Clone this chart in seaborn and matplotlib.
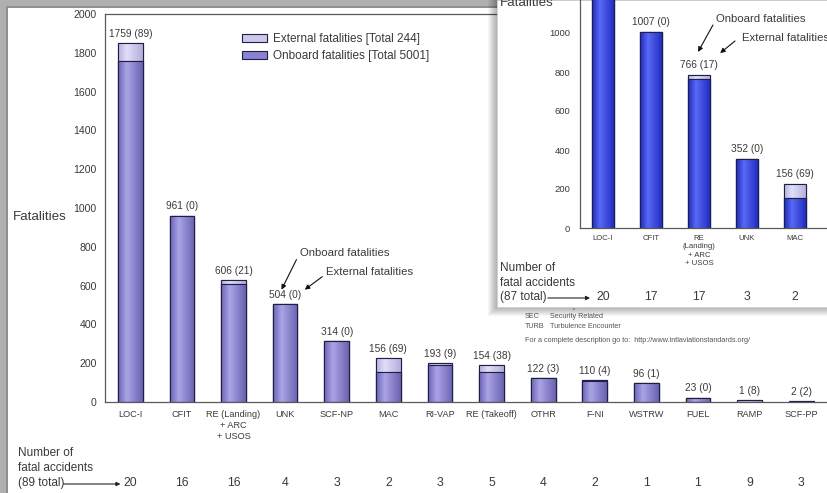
import numpy as np
import pandas as pd
import matplotlib
matplotlib.use("Agg")
import matplotlib.pyplot as plt
import seaborn as sns
from matplotlib.patches import Rectangle, Patch
from matplotlib.colors import LinearSegmentedColormap

# ---- data -------------------------------------------------------------
categories = ["LOC-I", "CFIT", "RE (Landing)\n+ ARC\n+ USOS", "UNK", "SCF-NP",
              "MAC", "RI-VAP", "RE (Takeoff)", "OTHR", "F-NI", "WSTRW",
              "FUEL", "RAMP", "SCF-PP"]
onboard = [1759, 961, 606, 504, 314, 156, 193, 154, 122, 110, 96, 23, 1, 2]
external = [89, 0, 21, 0, 0, 69, 9, 38, 3, 4, 1, 0, 8, 2]
accidents = [20, 16, 16, 4, 3, 2, 3, 5, 4, 2, 1, 1, 9, 3]

inset_categories = ["LOC-I", "CFIT", "RE\n(Landing)\n+ ARC\n+ USOS", "UNK", "MAC"]
inset_onboard = [1290, 1007, 766, 352, 156]
inset_external = [0, 0, 17, 0, 69]
inset_accidents = [20, 17, 17, 3, 2]

glossary = [("RI-A", "Runway Incursion - Animal"),
            ("SEC", "Security Related"),
            ("TURB", "Turbulence Encounter")]
source_note = "For a complete description go to:  http://www.intlaviationstandards.org/"

# ---- style ------------------------------------------------------------
sns.set_style("white")
plt.rcParams["font.family"] = ["Liberation Sans", "DejaVu Sans"]
TXT = "#3a3a3a"
EDGE = "#1e1e46"
SPINE = "#5a5a5a"

W, H = 827, 493


def fx(px):
    return px / W


def fy(py):
    return 1 - py / H


fig = plt.figure(figsize=(W / 100, H / 100), dpi=100)
fig.patch.set_facecolor("white")

grad = np.linspace(0, 1, 64).reshape(1, -1)


def cyl(name, dark, light, dark2):
    return LinearSegmentedColormap.from_list(
        name, [(0, dark), (0.35, light), (1, dark2)])


main_onb_cmap = cyl("mo", "#6c64b6", "#aaa4e6", "#6a62b0")
main_ext_cmap = cyl("me", "#b6b0de", "#e2def7", "#b3addb")
ins_onb_cmap = cyl("io", "#1d2cc4", "#5a6af3", "#1b2abd")
ins_ext_cmap = cyl("ie", "#b3b3e0", "#e0e0f7", "#b0b0dc")


def shade(ax, patches, cmap, z, lw):
    for p in patches:
        x0, y0 = p.get_x(), p.get_y()
        w, h = p.get_width(), p.get_height()
        if h <= 0:
            continue
        im = ax.imshow(grad, cmap=cmap, aspect="auto",
                       extent=(x0, x0 + w, y0, y0 + h), zorder=z,
                       interpolation="bilinear")
        im.set_clip_path(p)
        ax.add_patch(Rectangle((x0, y0), w, h, fill=False, ec=EDGE,
                               lw=lw, zorder=z + 0.1))


def stacked(ax, cats, onb, ext, width, onb_color, ext_color, onb_cmap, ext_cmap):
    df = pd.DataFrame({"category": cats, "onboard": onb, "external": ext})
    df["total"] = df["onboard"] + df["external"]
    sns.barplot(data=df, x="category", y="total", color=ext_color, width=width,
                saturation=1, edgecolor=EDGE, linewidth=0.8, ax=ax, zorder=1)
    n_ext = len(ax.patches)
    shade(ax, list(ax.patches)[:n_ext], ext_cmap, 1.1, 0.8)
    sns.barplot(data=df, x="category", y="onboard", color=onb_color, width=width,
                saturation=1, edgecolor=EDGE, linewidth=0.8, ax=ax, zorder=2)
    onb_patches = [p for p in ax.patches
                   if isinstance(p, Rectangle) and p.get_fill() and p.zorder == 2]
    shade(ax, onb_patches, onb_cmap, 2.1, 0.8)
    return df


# ---- main chart -------------------------------------------------------
ax = fig.add_axes([fx(105), fy(402), 722 / W, 388 / H], zorder=0)
df = stacked(ax, categories, onboard, external, 0.48, "#8a82d2", "#cdc8ee",
             main_onb_cmap, main_ext_cmap)
ax.set_xlim(-0.49, 13.5)
ax.set_ylim(0, 2000)
ax.set_yticks(np.arange(0, 2001, 200))
ax.set_xticks(range(len(categories)))
ax.set_xticklabels(categories, fontsize=6.6, color=TXT, linespacing=1.25)
ax.tick_params(axis="y", direction="in", length=3, width=0.7, colors=SPINE,
               labelsize=7.6, labelcolor=TXT, pad=6)
ax.tick_params(axis="x", length=0, pad=6)
ax.set_xlabel("")
ax.set_ylabel("Fatalities", rotation=0, fontsize=9.6, color=TXT,
              ha="left", va="center")
ax.yaxis.set_label_coords(-0.127, (402 - 217) / 388)
for side in ("left", "top", "bottom"):
    ax.spines[side].set_color(SPINE)
    ax.spines[side].set_linewidth(0.9)
ax.spines["right"].set_visible(False)

for i, r in df.iterrows():
    ax.annotate(f"{r.onboard} ({r.external})", xy=(i, r.total),
                xytext=(0, 6.6), textcoords="offset points",
                ha="center", va="center", fontsize=7.3, color=TXT)

xt = ax.get_xaxis_transform()
for i, n in enumerate(accidents):
    ax.text(i, -(483 - 402) / 388, str(n), transform=xt, ha="center",
            va="center", fontsize=8.8, color=TXT)
for k, line in enumerate(["Number of", "fatal accidents", "(89 total)"]):
    ax.text(-0.1205, -(453 + 15 * k - 402) / 388, line, transform=ax.transAxes,
            ha="left", va="center", fontsize=8.5, color=TXT)
ax.annotate("", xy=(-0.19, -(484 - 402) / 388), xytext=(-1.29, -(484 - 402) / 388),
            xycoords=xt, textcoords=xt, annotation_clip=False,
            arrowprops=dict(arrowstyle="-|>", color="#222222", lw=0.8,
                            mutation_scale=6, shrinkA=0, shrinkB=0))

# callouts pointing at the UNK label
ax.text(3.28, 770, "Onboard fatalities", fontsize=8.2, color=TXT,
        ha="left", va="center")
ax.text(3.80, 672, "External fatalities", fontsize=8.2, color=TXT,
        ha="left", va="center")
for tail, tip in [((3.22, 734), (2.93, 579)), ((3.72, 646), (3.38, 579))]:
    ax.annotate("", xy=tip, xytext=tail,
                arrowprops=dict(arrowstyle="-|>", color="#111111", lw=0.8,
                                mutation_scale=7, shrinkA=0, shrinkB=0))

handles = [Patch(facecolor="#cdc8ee", edgecolor=EDGE, linewidth=0.8),
           Patch(facecolor="#8a82d2", edgecolor=EDGE, linewidth=0.8)]
ax.legend(handles, ["External fatalities [Total 244]",
                    "Onboard fatalities [Total 5001]"],
          loc="upper left", bbox_to_anchor=((242 - 105) / 722, (402 - 33) / 388),
          frameon=False, fontsize=8.5, handlelength=2.1, handleheight=0.7,
          handletextpad=0.5, labelspacing=0.45, borderpad=0, borderaxespad=0,
          labelcolor=TXT)

# glossary lines partly hidden behind the inset
for k, (code, desc) in enumerate(glossary):
    yy = [307, 317, 326][k]
    fig.text(fx(525), fy(yy), code, fontsize=5.2, color="#555555",
             ha="left", va="center", zorder=3)
    fig.text(fx(550), fy(yy), desc, fontsize=5.2, color="#555555",
             ha="left", va="center", zorder=3)
fig.text(fx(525), fy(341), source_note, fontsize=5.2, color="#555555",
         ha="left", va="center", zorder=3)

# ---- page frame -------------------------------------------------------
fig.patches.append(Rectangle((0, 0), fx(6), 1, transform=fig.transFigure,
                             fc="#b0b0b0", ec="none", zorder=4))
fig.patches.append(Rectangle((fx(6), 0), fx(1.5), 1, transform=fig.transFigure,
                             fc="#909090", ec="none", zorder=4))
fig.patches.append(Rectangle((0, fy(6)), 1, 6 / H, transform=fig.transFigure,
                             fc="#b0b0b0", ec="none", zorder=4))
fig.patches.append(Rectangle((fx(6), fy(7.5)), 1, 1.5 / H, transform=fig.transFigure,
                             fc="#909090", ec="none", zorder=4))

# ---- inset panel with drop shadow ------------------------------------
for k in range(1, 10):
    fig.patches.append(Rectangle((fx(497 - k), fy(307 + k)), (330 + k) / W,
                                 (307 + k) / H, transform=fig.transFigure,
                                 fc=(0, 0, 0, 0.035), ec="none", zorder=4.5))
fig.patches.append(Rectangle((fx(497), fy(307)), 330 / W, 307 / H,
                             transform=fig.transFigure, fc="white",
                             ec="#d0d0d0", lw=0.6, zorder=5))

ax2 = fig.add_axes([fx(580), fy(228), 247 / W, 228 / H], zorder=6)
ax2.patch.set_visible(False)
df2 = stacked(ax2, inset_categories, inset_onboard, inset_external, 0.47,
              "#2e40e0", "#cacaee", ins_onb_cmap, ins_ext_cmap)
ax2.set_xlim(-0.48, (827 - 603) / 48)
ax2.set_ylim(0, 228 / 0.195)
ax2.set_yticks(np.arange(0, 1001, 200))
ax2.set_xticks(range(len(inset_categories)))
ax2.set_xticklabels(inset_categories, fontsize=5.6, color=TXT, linespacing=1.3)
ax2.tick_params(axis="y", direction="in", length=3, width=0.7, colors=SPINE,
                labelsize=6.8, labelcolor=TXT, pad=7)
ax2.tick_params(axis="x", length=0, pad=5)
ax2.set_xlabel("")
ax2.set_ylabel("")
for side in ("left", "bottom"):
    ax2.spines[side].set_color(SPINE)
    ax2.spines[side].set_linewidth(0.9)
ax2.spines["right"].set_visible(False)
ax2.spines["top"].set_visible(False)

ytop2 = ax2.get_ylim()[1]
for i, r in df2.iterrows():
    if r.total > ytop2:
        continue  # label would sit above the visible panel
    ax2.annotate(f"{r.onboard} ({r.external})", xy=(i, r.total),
                 xytext=(0, 7.2), textcoords="offset points",
                 ha="center", va="center", fontsize=7.3, color=TXT)

xt2 = ax2.get_xaxis_transform()
for i, n in enumerate(inset_accidents):
    ax2.text(i, -(297 - 228) / 228, str(n), transform=xt2, ha="center",
             va="center", fontsize=8.8, color=TXT)
for k, line in enumerate(["Number of", "fatal accidents", "(87 total)"]):
    ax2.text(-(580 - 500) / 247, -(268 + 14.5 * k - 228) / 228, line,
             transform=ax2.transAxes, ha="left", va="center", fontsize=8.5,
             color=TXT)
ax2.annotate("", xy=(-0.27, -(298 - 228) / 228), xytext=(-1.15, -(298 - 228) / 228),
             xycoords=xt2, textcoords=xt2, annotation_clip=False,
             arrowprops=dict(arrowstyle="-|>", color="#222222", lw=0.8,
                             mutation_scale=6, shrinkA=0, shrinkB=0))

ax2.text(2.35, 1072, "Onboard fatalities", fontsize=8.2, color=TXT,
         ha="left", va="center")
ax2.text(2.90, 974, "External fatalities", fontsize=8.2, color=TXT,
         ha="left", va="center", clip_on=False)
for tail, tip in [((2.29, 1041), (1.98, 903)), ((2.75, 959), (2.44, 897))]:
    ax2.annotate("", xy=tip, xytext=tail,
                 arrowprops=dict(arrowstyle="-|>", color="#111111", lw=0.8,
                                 mutation_scale=7, shrinkA=0, shrinkB=0))

fig.text(fx(500), fy(3), "Fatalities", fontsize=9.6, color=TXT,
         ha="left", va="center", zorder=7)

fig.savefig("out.png", dpi=100)
